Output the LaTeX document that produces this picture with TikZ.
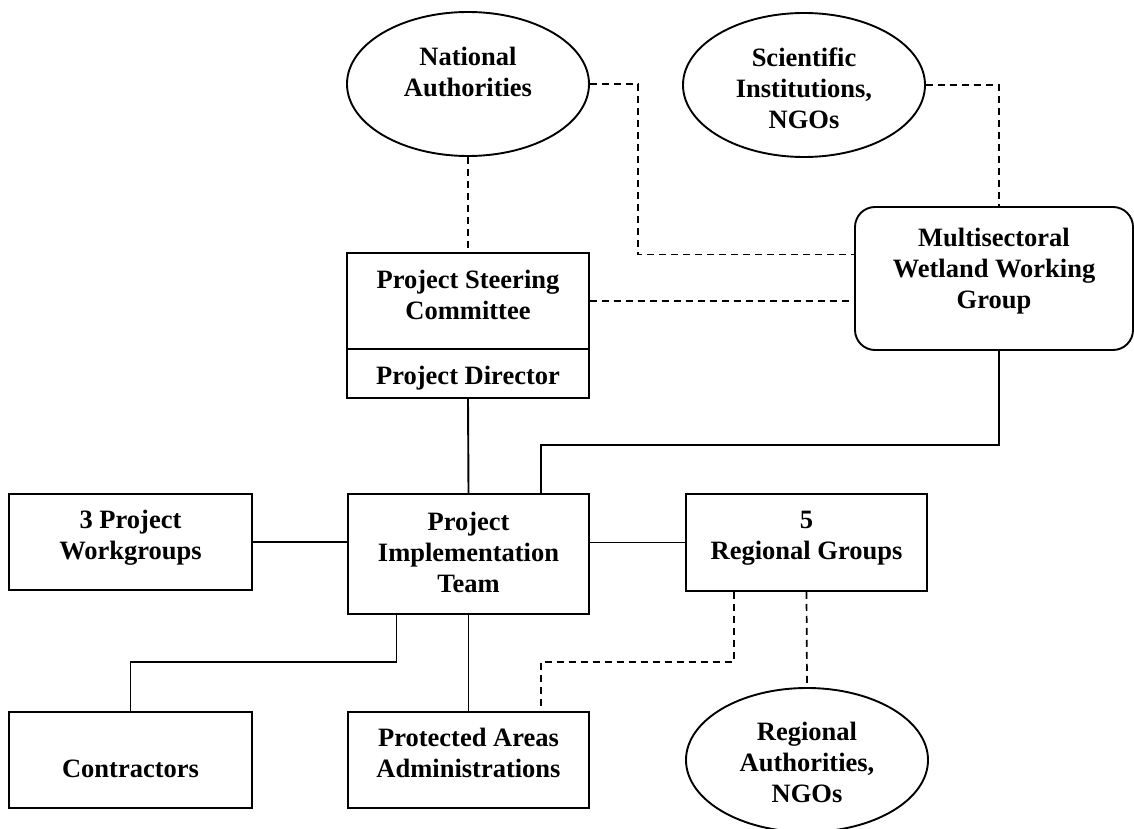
\documentclass[tikz,border=0pt]{standalone}
\usepackage{fontspec}
\setmainfont{Liberation Serif}
\usetikzlibrary{shapes.geometric}
\begin{document}
\begin{tikzpicture}[x=1pt,y=-1pt,
  box/.style={draw, line width=1.9pt, rectangle, inner sep=0pt},
  ell/.style={draw, line width=1.9pt, ellipse, inner sep=0pt, minimum width=242pt, minimum height=144pt},
  txt/.style={inner sep=0pt, align=center, font=\fontsize{26.5}{31}\selectfont\bfseries},
  solidline/.style={line width=1.9pt},
  dashline/.style={line width=1.7pt, dash pattern=on 7pt off 5pt}]
\useasboundingbox (0,0) rectangle (1134,829);

% shapes
\node[ell] (na) at (468,84) {};
\node[ell] (sci) at (804,85) {};
\node[box, rounded corners=20pt, minimum width=278pt, minimum height=143pt] (mw) at (994,278.5) {};
\node[box, minimum width=242pt, minimum height=96pt] (psc) at (468,301) {};
\node[box, minimum width=242pt, minimum height=49pt] (pd) at (468,373.5) {};
\node[box, minimum width=243pt, minimum height=96pt] (pw) at (130.5,542) {};
\node[box, minimum width=241pt, minimum height=120pt] (pit) at (468.5,554) {};
\node[box, minimum width=241pt, minimum height=97pt] (rg) at (806.5,542.5) {};
\node[box, minimum width=243pt, minimum height=96pt] (con) at (130.5,760) {};
\node[box, minimum width=241pt, minimum height=96pt] (paa) at (468.5,760) {};
\node[ell] (ra) at (807,760) {};

% texts
\node[txt] (naT) at (468,72) {National\\Authorities};
\node[txt] (sciT) at (804,88) {Scientific\\Institutions,\\NGOs};
\node[txt] (mwT) at (994,271) {Multisectoral\\Wetland Working\\Group};
\node[txt] (pscT) at (468,295) {Project Steering\\Committee};
\node[txt] (pdT) at (468,378) {Project Director};
\node[txt] (pwT) at (130.5,538) {3 Project\\Workgroups};
\node[txt] (pitT) at (468.5,552) {Project\\Implementation\\Team};
\node[txt] (rgT) at (806.5,538) {5\\Regional Groups};
\node[txt] (conT) at (130.5,769) {Contractors};
\node[txt] (paaT) at (468.5,753) {Protected Areas\\Administrations};
\node[txt] (raT) at (807,762) {Regional\\Authorities,\\NGOs};

% connectors
\draw[dashline] (na.south) -- (psc.north);
\draw[dashline] (na.east) -- ++(48,0) |- ([yshift=24pt]mw.west);
\draw[dashline] (sci.east) -| ([xshift=5pt]mw.north);
\draw[dashline] (psc.east) -- (psc.east -| mw.west);
\draw[solidline] (pd.south) -- (pit.north);
\draw[solidline] ([xshift=5pt]mw.south) |- ([xshift=72.5pt,yshift=48pt]pit.north) -- ([xshift=72.5pt]pit.north);
\draw[solidline] (pw.east) -- (pw.east -| pit.west);
\draw[solidline] (rg.west -| pit.east) -- (rg.west);
\draw[solidline] ([xshift=-72pt]pit.south) |- ([yshift=49pt]con.north) -- (con.north);
\draw[solidline] (pit.south) -- (paa.north);
\draw[dashline] ([xshift=-72.5pt]rg.south) |- ([xshift=72.5pt,yshift=49pt]paa.north) -- ([xshift=72.5pt]paa.north);
\draw[dashline] (rg.south) -- (ra.north);
\end{tikzpicture}
\end{document}
